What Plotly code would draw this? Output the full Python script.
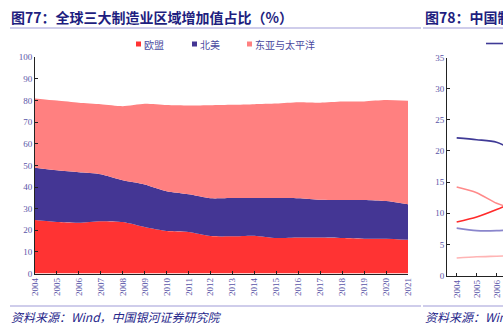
import plotly.graph_objects as go

W, H = 503, 335

years = list(range(2004, 2022))
year_labels = [str(y) for y in years]
series_names = ["欧盟", "北美", "东亚与太平洋"]
eu = [24.7, 23.8, 23.5, 24.2, 23.8, 21.5, 19.6, 19.2, 17.3, 17.2, 17.5, 16.4, 16.7, 16.6, 16.4, 16.1, 16.1, 15.6]
na = [24.2, 23.9, 23.3, 21.7, 19.3, 19.7, 18.4, 17.4, 17.5, 17.7, 17.4, 18.5, 18.1, 17.5, 17.6, 17.9, 17.4, 16.4]
ap = [32.1, 32.3, 32.2, 32.4, 34.3, 37.3, 39.9, 41.1, 43.0, 43.1, 43.4, 43.7, 44.4, 44.9, 45.5, 45.6, 46.7, 47.9]
fill_colors = ["#FF3333", "#443694", "#FF8080"]

# partially visible neighbouring chart (图78)
years2 = [2004, 2005, 2006, 2007]
year2_labels = ["2004", "2005", "2006", "2007"]
s2_a = [22.1, 21.8, 21.4, 19.8]
s2_b = [14.2, 13.3, 11.6, 10.6]
s2_c = [8.6, 9.4, 10.6, 12.0]
s2_d = [7.6, 7.2, 7.2, 7.4]
s2_e = [2.8, 3.0, 3.1, 3.2]
line_colors2 = ["#3F3A96", "#FF8A8A", "#FF2A2A", "#8A86CC", "#FFB4B4"]

def px(x):
    return x / W

def py(y):
    return 1 - y / H

fig = go.Figure()
for name, vals, col in zip(series_names, [eu, na, ap], fill_colors):
    fig.add_trace(go.Scatter(
        x=years, y=vals, name=name, stackgroup="one", mode="lines",
        line=dict(width=0, shape="spline", smoothing=0.6, color=col),
        fillcolor=col, showlegend=False, xaxis="x", yaxis="y"))

for vals, col in zip([s2_a, s2_b, s2_c, s2_d, s2_e], line_colors2):
    fig.add_trace(go.Scatter(
        x=years2, y=vals, mode="lines",
        line=dict(width=1.6, shape="spline", smoothing=0.8, color=col),
        showlegend=False, xaxis="x2", yaxis="y2", cliponaxis=True))

tick_font = dict(family="Liberation Serif", size=9, color="#5A55A8")
axis_common = dict(showgrid=False, zeroline=False, showline=True, linecolor="#222222",
                   linewidth=1, ticks="inside", ticklen=3, tickcolor="#222222",
                   tickfont=tick_font, automargin=False, fixedrange=True)

fig.update_layout(
    width=W, height=H, margin=dict(l=0, r=0, t=0, b=0),
    paper_bgcolor="white", plot_bgcolor="white",
    xaxis=dict(domain=[px(35), px(408)], range=[2004, 2021], tickvals=years,
               ticktext=year_labels, tickangle=-90, anchor="y", **axis_common),
    yaxis=dict(domain=[py(273.5), py(57.3)], range=[0, 100], dtick=10,
               anchor="x", **axis_common),
    xaxis2=dict(domain=[px(447), 1.0], range=[2003.515, 2006.32], tickvals=years2,
                ticktext=year2_labels, tickangle=-90, anchor="y2", **axis_common),
    yaxis2=dict(domain=[py(275.5), py(57.5)], range=[0, 35], dtick=5,
                anchor="x2", **axis_common),
)

title_font = dict(family="Noto Sans CJK SC", size=14, color="#1E1E80")
foot_font = dict(family="Noto Sans CJK SC", size=12, color="#26268A")
ann = []
ann.append(dict(text="<b>图77：全球三大制造业区域增加值占比（%）</b>", x=px(9), y=py(17),
                xref="paper", yref="paper", xanchor="left", yanchor="middle",
                showarrow=False, font=title_font))
ann.append(dict(text="<b>图78：中国制</b>", x=px(423), y=py(17),
                xref="paper", yref="paper", xanchor="left", yanchor="middle",
                showarrow=False, font=title_font))
ann.append(dict(text="<i>资料来源：Wind，中国银河证券研究院</i>", x=px(9), y=py(316),
                xref="paper", yref="paper", xanchor="left", yanchor="middle",
                showarrow=False, font=foot_font))
ann.append(dict(text="<i>资料来源：Win</i>", x=px(423), y=py(316),
                xref="paper", yref="paper", xanchor="left", yanchor="middle",
                showarrow=False, font=foot_font))

shapes = []
# header / footer rules
for x0, x1 in [(10, 421), (423, 503)]:
    shapes.append(dict(type="line", xref="paper", yref="paper", x0=px(x0), x1=px(x1),
                       y0=py(28), y1=py(28), line=dict(color="#A09CD8", width=1.2)))
    shapes.append(dict(type="line", xref="paper", yref="paper", x0=px(x0), x1=px(x1),
                       y0=py(306), y1=py(306), line=dict(color="#A09CD8", width=1.2)))

# manual legend
leg_x = [136, 192, 247]
for name, col, lx in zip(series_names, fill_colors, leg_x):
    shapes.append(dict(type="rect", xref="paper", yref="paper",
                       x0=px(lx), x1=px(lx + 5), y0=py(46.5), y1=py(41.5),
                       fillcolor=col, line=dict(width=0)))
    ann.append(dict(text=name, x=px(lx + 5.5), y=py(44), xref="paper", yref="paper",
                    xanchor="left", yanchor="middle", showarrow=False,
                    font=dict(family="Noto Sans CJK SC", size=10, color="#4A4AA0")))
# neighbouring chart legend line
shapes.append(dict(type="line", xref="paper", yref="paper", x0=px(486), x1=1.0,
                   y0=py(43.5), y1=py(43.5), line=dict(color="#3F3A96", width=1.6)))

fig.update_layout(annotations=ann, shapes=shapes)
fig.write_html("out.html")
